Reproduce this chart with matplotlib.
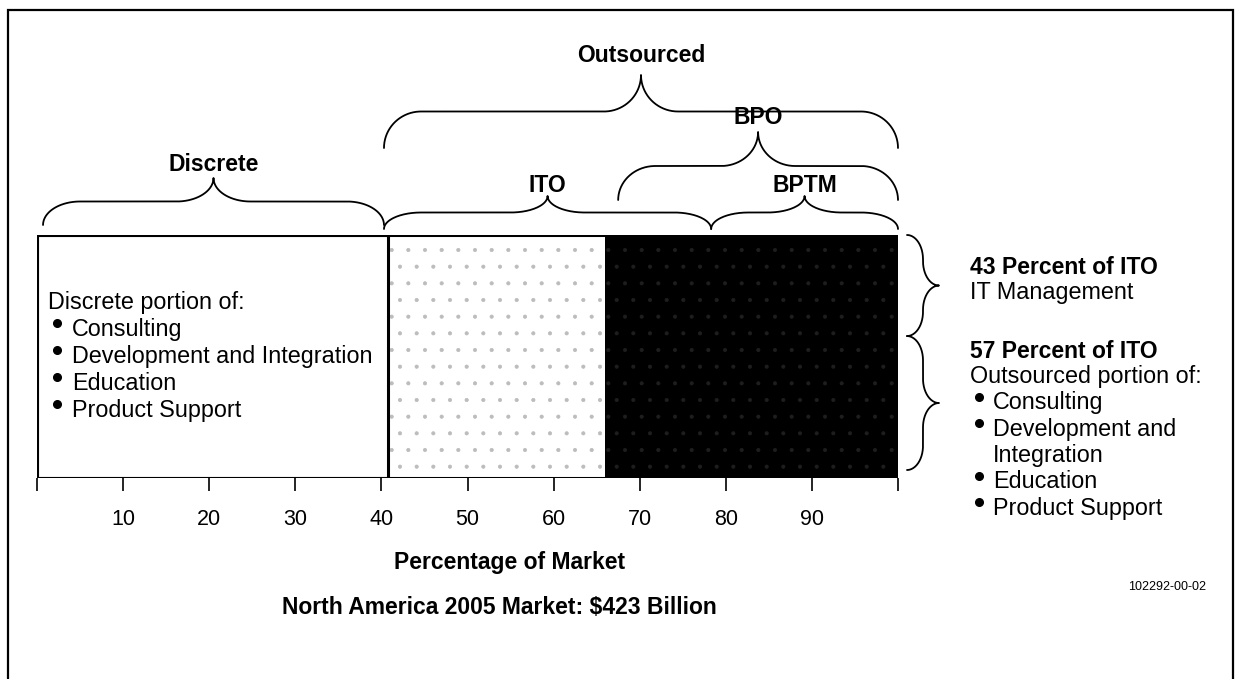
import numpy as np
import matplotlib.pyplot as plt
from matplotlib.patches import Rectangle
from matplotlib.lines import Line2D

W, H = 1237, 679
plt.rcParams['font.family'] = ['Liberation Sans', 'DejaVu Sans']
plt.rcParams['hatch.linewidth'] = 0.5

# market shares along the bar (percent of market)
seg_names = ["Discrete", "ITO", "BPO"]
seg_share = [40.8, 25.2, 34.0]
seg_face = ["white", "white", "black"]
seg_hatch = [None, ".", "."]
seg_hatch_col = ["white", "#bcbcbc", "#1e1e1e"]

# braces above the bar: label, start, end
brace_labels = ["Outsourced", "BPO", "Discrete", "ITO", "BPTM"]
brace_start = [40.3, 67.5, 0.7, 40.3, 78.3]
brace_end = [100, 100, 40.3, 78.3, 100]

# split of ITO
ito_split = [43, 57]

xticks = list(range(0, 101, 10))
xtick_labels = [""] + [str(v) for v in range(10, 100, 10)] + [""]

left_head = "Discrete portion of:"
left_items = ["Consulting", "Development and Integration", "Education", "Product Support"]

REG = 16.8
BOLD = 16.5

fig = plt.figure(figsize=(W / 100, H / 100), dpi=100)
ax = fig.add_axes([37 / W, 1 - 478 / H, 861 / W, 243 / H])
ax.set_xlim(0, 100)
ax.set_ylim(0, 1)


def fy(py):
    # pixel row -> data y of the bar axes
    return (478 - py) / 243


def fx(px):
    return (px - 37) / 8.61


# the bar
lefts = np.concatenate([[0], np.cumsum(seg_share)[:-1]])
bars = ax.barh(0.5, seg_share, left=lefts, height=1, color=seg_face, linewidth=0)
for b, h, c in zip(bars, seg_hatch, seg_hatch_col):
    if h:
        b.set_hatch(h)
        b.set_edgecolor(c)
ax.barh(0.5, seg_share[0], left=0, height=1, fill=False, edgecolor="black", linewidth=2.2)
ax.barh(0.5, sum(seg_share), left=0, height=1, fill=False, edgecolor="black", linewidth=2.2)

for s in ax.spines.values():
    s.set_visible(False)
ax.set_yticks([])
ax.set_xticks(xticks)
ax.set_xticklabels(xtick_labels)
ax.tick_params(axis="x", length=9, width=1.2, pad=13, labelsize=15.5)


def brace(x0, x1, y_end, y_tip, r_along, vertical=False):
    # curly brace from x0 to x1, ends at y_end, point at y_tip
    r = r_along * np.sign(x1 - x0)
    xm = (x0 + x1) / 2
    h = (y_tip - y_end) / 2
    t = np.linspace(0, np.pi / 2, 40)
    a1x = x0 + r - r * np.cos(t)
    a1y = y_end + h * np.sin(t)
    a2x = xm - r + r * np.sin(t)
    a2y = y_tip - h * np.cos(t)
    lx = np.concatenate([a1x, a2x])
    ly = np.concatenate([a1y, a2y])
    xs = np.concatenate([lx, 2 * xm - lx[::-1]])
    ys = np.concatenate([ly, ly[::-1]])
    if vertical:
        xs, ys = ys, xs
    ax.plot(xs, ys, color="black", lw=1.3, clip_on=False, solid_capstyle="round")


# brace geometry (pixel rows): ends, tip, label
levels = {
    "Outsourced": (148, 75, 55),
    "BPO": (200, 132, 117),
    "Discrete": (225, 178, 164),
    "ITO": (229, 196, 185),
    "BPTM": (229, 196, 185),
}
for lab, a, b in zip(brace_labels, brace_start, brace_end):
    ye, yt, yl = levels[lab]
    r = min(4.3, (b - a) / 5)
    brace(a, b, fy(ye), fy(yt), r)
    ax.text((a + b) / 2, fy(yl), lab, ha="center", va="center",
            fontsize=BOLD, fontweight="bold", clip_on=False)

# vertical braces on the right: 43% / 57% of ITO
top_y, bot_y = 1.0, fy(470)
split_y = top_y - (top_y - bot_y) * ito_split[0] / 100
brace(top_y, split_y, fx(907), fx(939), 0.1, vertical=True)
brace(split_y, bot_y, fx(907), fx(939), 0.1, vertical=True)


def ftext(px, py, s, **kw):
    fig.text(px / W, 1 - py / H, s, va="center", **kw)


def bullet(px, py):
    fig.add_artist(Line2D([px / W], [1 - (py - 6) / H], marker="o", ms=5.5,
                          color="black", transform=fig.transFigure))


# list inside the discrete segment
ftext(48, 302, left_head, fontsize=REG)
for i, item in enumerate(left_items):
    y = 329 + i * 27
    bullet(57, y)
    ftext(72, y, item, fontsize=REG)

# right notes
ftext(970, 268, "%d Percent of ITO" % ito_split[0], fontsize=BOLD, fontweight="bold")
ftext(970, 293, "IT Management", fontsize=REG)
ftext(970, 351, "%d Percent of ITO" % ito_split[1], fontsize=BOLD, fontweight="bold")
ftext(970, 376, "Outsourced portion of:", fontsize=REG)
right_items = ["Consulting", "Development and", None, "Education", "Product Support"]
for i, item in enumerate(right_items):
    y = 403 + i * 26.3
    if item is None:
        ftext(993, y, "Integration", fontsize=REG)
        continue
    bullet(979, y)
    ftext(993, y, item, fontsize=REG)

ftext(510, 563, "Percentage of Market", fontsize=BOLD, fontweight="bold", ha="center")
ftext(499, 608, "North America 2005 Market: $423 Billion", fontsize=BOLD, fontweight="bold", ha="center")
ftext(1206, 587, "102292-00-02", fontsize=9, ha="right")

fig.add_artist(Rectangle((8 / W, -0.05), (1233 - 8) / W, 1 - 10 / H + 0.05,
                         transform=fig.transFigure, fill=False, lw=1.6, edgecolor="black"))

fig.savefig("out.png", dpi=100)
